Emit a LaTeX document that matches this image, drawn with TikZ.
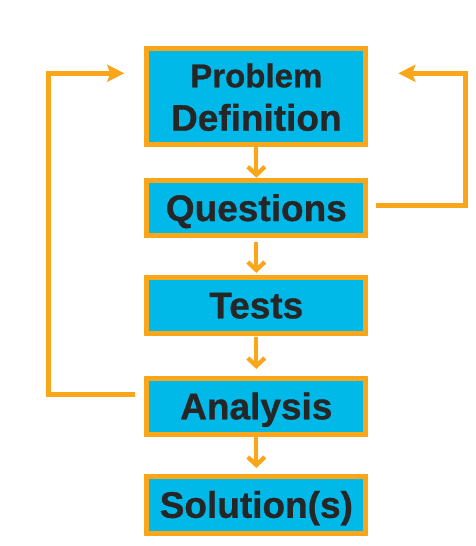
\documentclass[tikz,border=0pt]{standalone}
\usepackage{fontspec}
\setmainfont{Liberation Sans}[BoldFeatures={FakeBold=0.8}]
\usetikzlibrary{arrows.meta}
\definecolor{boxfill}{RGB}{0,185,232}
\definecolor{boxline}{RGB}{250,166,26}
\definecolor{txt}{RGB}{38,38,38}
\tikzset{
  box/.style={draw=boxline, line width=5pt, fill=boxfill, minimum width=219pt, inner sep=0pt,
    text=txt, font=\fontsize{37}{40}\selectfont\bfseries, text height=26pt, text depth=0pt},
  flow/.style={draw=boxline, line width=4.3pt, -{Straight Barb[length=8pt,width=17pt]}},
  loop/.style={draw=boxline, line width=5pt, -{Stealth[length=17pt,width=17pt,inset=3pt]}},
  lbl/.style={anchor=base, text=txt, inner sep=0pt}
}
\begin{document}
\begin{tikzpicture}[x=1pt,y=-1pt]
\useasboundingbox (0,0) rectangle (476,546);
\node[box, minimum height=96.3pt, text height=0pt] (pd) at (256.3,96.7) {};
\node[lbl, font=\fontsize{33}{36}\selectfont\bfseries] (pd1) at (256.3,87.3) {Problem};
\node[lbl, font=\fontsize{37}{40}\selectfont\bfseries] (pd2) at (256.3,130.7) {Definition};
\node[box, minimum height=55.6pt] (q) at (256.3,208) {Questions};
\node[box, minimum height=55.7pt] (t) at (256.3,305.3) {Tests};
\node[box, minimum height=55.7pt] (a) at (256.3,406.3) {Analysis};
\node[box, minimum height=56.7pt] (s) at (256.3,504.8) {Solution(s)};
\draw[flow] (pd.south) -- (q.north);
\draw[flow, shorten <=4pt, shorten >=2pt] (q.south) -- (t.north);
\draw[flow, shorten <=1.5pt, shorten >=7pt] (t.south) -- (a.north);
\draw[flow, shorten >=6pt] (a.south) -- (s.north);
\coordinate (rtop) at (465,73.3);
\coordinate (ltop) at (48.3,73.3);
\draw[loop] ([xshift=8pt,yshift=3pt]q.east) -| (rtop) -- ([xshift=30pt]pd.east |- rtop);
\draw[loop] ([xshift=-9.3pt,yshift=12pt]a.west) -| (ltop) -- ([xshift=-20pt]pd.west |- ltop);
\end{tikzpicture}
\end{document}
